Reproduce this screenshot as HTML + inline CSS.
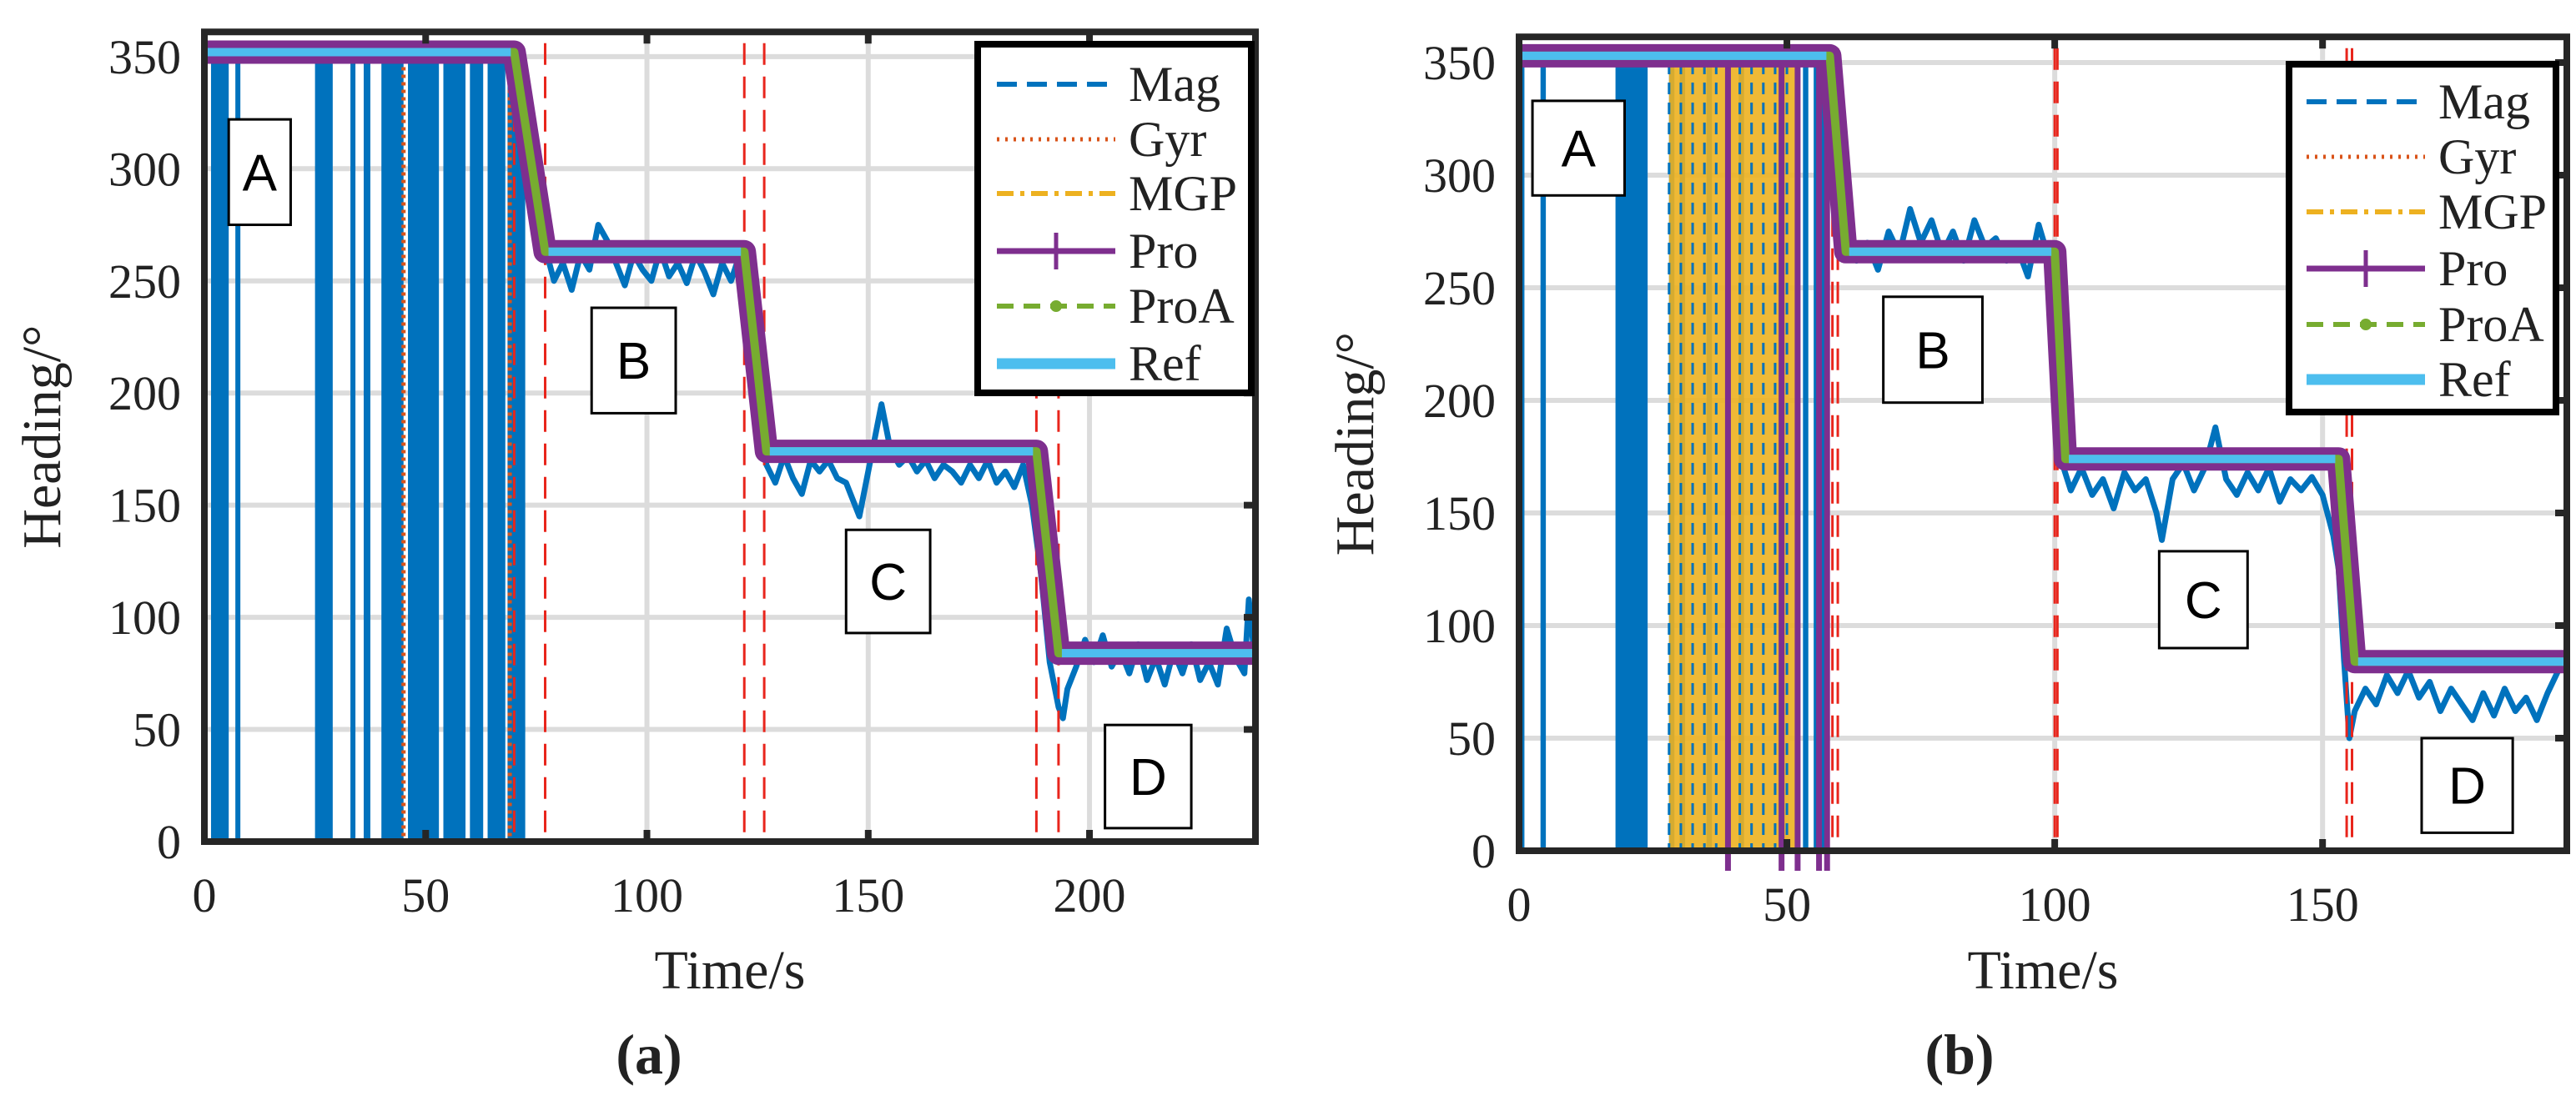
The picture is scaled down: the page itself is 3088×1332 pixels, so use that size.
<!DOCTYPE html>
<html><head><meta charset="utf-8"><style>
html,body{margin:0;padding:0;background:#fff}
svg{display:block}
text{font-family:"Liberation Serif",serif;fill:#222}
.lab{font-family:"Liberation Sans",sans-serif;fill:#000}
</style></head><body>
<svg id="fig" width="3088" height="1332" viewBox="0 0 3088 1332" xmlns="http://www.w3.org/2000/svg"></svg>
<script>
// ---------- data: chart (a) ----------
const aXTicks=[0,50,100,150,200];
const aYTicks=[0,50,100,150,200,250,300,350];
const aRefT=[0,70,77,122,127,188,193,237.5];
const aRefV=[352,352,263,263,174,174,84,84];
const aSpikes=[[1.5,5.5],[7,8],[25,29],[33,34],[36,37.5],[40,45],[46,53],[54,59],[60,63],[64,68],[68.5,72.5]];
const aMag=[[72,330],[74,300],[77,265],[79,250],[81,258],[83,246],[85,262],[87,255],[89,275],[91,268],[93,258],[95,248],[97,262],[99,255],[101,250],[103,264],[105,252],[107,258],[109,249],[111,262],[113,254],[115,244],[117,258],[119,250],[121,262],[123,240],[125,200],[127,168],[129,160],[131,172],[133,162],[135,155],[137,170],[139,165],[141,170],[143,162],[145,160],[147,150],[148,145],[150,165],[152,185],[153,195],[155,175],[157,168],[159,172],[161,165],[163,170],[165,162],[167,168],[169,165],[171,160],[173,168],[175,162],[177,170],[179,160],[181,165],[183,158],[185,168],[187,150],[189,120],[191,80],[193,60],[194,55],[195,68],[197,78],[199,90],[201,80],[203,92],[205,78],[207,85],[209,75],[211,88],[213,72],[215,82],[217,70],[219,85],[221,75],[223,88],[225,72],[227,80],[229,70],[231,95],[233,82],[235,75],[236,108],[237,88]];
const aRedV=[70,77,122,126.5,188,193];
const aGyrV=[45,69];
const aBoxes=[["A",5.5,322,19.5,275],["B",87.5,238,106.5,191],["C",145,139,164,93],["D",203.5,52,223,6]];
// ---------- data: chart (b) ----------
const bXTicks=[0,50,100,150];
const bYTicks=[0,50,100,150,200,250,300,350];
const bRefT=[0,58,61,100,102,153,156,195.6];
const bRefV=[353,353,266,266,174,174,84,84];
const bSpikes=[[0,1],[4,5],[18,24],[28,29],[30,31],[35,36],[41,42],[53,54],[55,57]];
const bMgp=[[28,52]];
const bProV=[39,49,52,56,57.5];
const bMag=[[59,280],[61,275],[63,262],[65,270],[67,258],[69,275],[71,265],[73,285],[75,270],[77,280],[79,265],[81,275],[83,262],[85,280],[87,268],[89,272],[91,262],[93,268],[95,255],[97,278],[99,262],[100,220],[101,175],[103,160],[105,170],[107,158],[109,165],[111,152],[113,168],[115,160],[117,165],[119,150],[120,138],[122,165],[124,172],[126,160],[128,170],[130,188],[132,165],[134,158],[136,168],[138,160],[140,170],[142,155],[144,165],[146,160],[148,166],[150,158],[152,140],[153,125],[154,85],[155,50],[156,62],[158,72],[160,65],[162,78],[164,70],[166,80],[168,68],[170,75],[172,62],[174,72],[176,65],[178,58],[180,70],[182,60],[184,72],[186,62],[188,68],[190,58],[192,70],[194,80],[195,88]];
const bRedV=[58.5,59.5,100,100.5,154.5,155.5];
const bGyrV=[];
const bBoxes=[["A",2.5,333,19.7,291],["B",68,246,86.5,199],["C",119.5,133,136,90],["D",168.5,50,185.5,8]];

const NS="http://www.w3.org/2000/svg";
const svg=document.getElementById('fig');
function mk(tag,attrs,parent){const e=document.createElementNS(NS,tag);for(const k in attrs)e.setAttribute(k,attrs[k]);(parent||svg).appendChild(e);return e;}

function chart(c){
  const g=mk('g',{});
  
  
  const X=t=>c.x0+(t/c.xmax)*(c.x1-c.x0);
  const Y=v=>c.y0-v*c.ys;
  const top=Y(c.ymax);
  c.xt.forEach(t=>{const l=mk('line',{x1:X(t),x2:X(t),y1:top,y2:c.y0,stroke:'#dcdcdc','stroke-width':6},g);
    
    });
  c.yt.forEach(v=>{const l=mk('line',{x1:c.x0,x2:c.x1,y1:Y(v),y2:Y(v),stroke:'#dcdcdc','stroke-width':6},g);
    
    });
  c.spikes.forEach(s=>{const r=mk('rect',{x:X(s[0]),y:Y(c.refV[0]-4),width:Math.max(6,X(s[1])-X(s[0])),height:Y(1)-Y(c.refV[0]-4),fill:'#0072bd'},g);
    
    });
  (c.mgp||[]).forEach(s=>{const r=mk('rect',{x:X(s[0]),y:Y(350),width:X(s[1])-X(s[0]),height:Y(1)-Y(350),fill:'#edb120',opacity:0.9},g);
    
    
    for(let t=s[0];t<s[1];t+=2.2){const l=mk('line',{x1:X(t),x2:X(t),y1:Y(350),y2:Y(1),stroke:(Math.round(t*10)%2?'#d95319':'#0072bd'),'stroke-width':3,'stroke-dasharray':'14 10'},g);
      
      }});
  (c.proV||[]).forEach(t=>{const l=mk('line',{x1:X(t),x2:X(t),y1:Y(352),y2:c.y0+24,stroke:'#7e2f8e','stroke-width':7},g);
    
    });
  const mp=mk('polyline',{points:c.mag.map(p=>X(p[0])+','+Y(p[1])).join(' '),fill:'none',stroke:'#0072bd','stroke-width':7,'stroke-linejoin':'round'},g);
  
  
  c.redV.forEach(t=>{const l=mk('line',{x1:X(t),x2:X(t),y1:Y(c.ymax-5),y2:c.y0,stroke:'#e8251c','stroke-width':3,'stroke-dasharray':'26 14'},g);
    
    });
  c.gyrV.forEach(t=>{const l=mk('line',{x1:X(t),x2:X(t),y1:Y(352),y2:c.y0,stroke:'#d95319','stroke-width':5,'stroke-dasharray':'4 5'},g);
    
    });
  const pts=c.refT.map((t,i)=>X(t)+','+Y(c.refV[i])).join(' ');
  const pro=mk('polyline',{points:pts,fill:'none',stroke:'#7e2f8e','stroke-width':28,'stroke-linejoin':'round'},g);
  
  
  const pa=mk('polyline',{points:pts,fill:'none',stroke:'#77ac30','stroke-width':10,'stroke-linejoin':'round'},g);
  
  
  for(let i=0;i<c.refT.length;i+=2){const l=mk('line',{x1:X(c.refT[i])+4,x2:X(c.refT[i+1])-4,y1:Y(c.refV[i]),y2:Y(c.refV[i]),stroke:'#4dbeee','stroke-width':10},g);
    
    }
  c.boxes.forEach(b=>{const bx=mk('rect',{x:X(b[1]),y:Y(b[2]),width:X(b[3])-X(b[1]),height:Y(b[4])-Y(b[2]),fill:'#fff',stroke:'#000','stroke-width':3},g);
    
    
    const t=mk('text',{x:(X(b[1])+X(b[3]))/2,y:(Y(b[2])+Y(b[4]))/2+22,'text-anchor':'middle','font-size':62,class:'lab'},g);t.textContent=b[0];
    
    });
  const fr=mk('rect',{x:c.x0,y:top,width:c.x1-c.x0,height:c.y0-top,fill:'none',stroke:'#262626','stroke-width':8},g);
  
  
  c.xt.forEach(t=>{const tx=mk('text',{x:X(t),y:c.y0+84,'text-anchor':'middle','font-size':58},g);tx.textContent=t;
    
    
    const k=mk('line',{x1:X(t),x2:X(t),y1:top,y2:top+14,stroke:'#262626','stroke-width':8},g);
    
    
    const k2=mk('line',{x1:X(t),x2:X(t),y1:c.y0-14,y2:c.y0,stroke:'#262626','stroke-width':8},g);
    
    });
  c.yt.forEach(v=>{const tx=mk('text',{x:c.x0-28,y:Y(v)+20,'text-anchor':'end','font-size':58},g);tx.textContent=v;
    
    
    const k=mk('line',{x1:c.x1-14,x2:c.x1,y1:Y(v),y2:Y(v),stroke:'#262626','stroke-width':8},g);
    
    });
  const xt=mk('text',{x:(c.x0+c.x1)/2,y:1185,'text-anchor':'middle','font-size':66},g);xt.textContent='Time/s';
  
  
  const yt=mk('text',{x:0,y:0,'text-anchor':'middle','font-size':66,transform:`translate(${c.ytX},${(top+c.y0)/2}) rotate(-90)`},g);yt.textContent='Heading/°';
  
  
  const cap=mk('text',{x:c.capX,y:1287,'text-anchor':'middle','font-size':68,'font-weight':'bold'},g);
  cap.textContent=c.cap;
  
  
  const L=c.leg;
  const lg=mk('g',{},g);
  
  
  mk('rect',{x:L.x,y:L.y,width:L.w,height:L.h,fill:'#fff',stroke:'#000','stroke-width':8},lg);
  const items=[['Mag','#0072bd','24 12',6],['Gyr','#d95319','3 7',5],['MGP','#edb120','20 8 5 8',6],['Pro','#7e2f8e','',7],['ProA','#77ac30','20 12',6],['Ref','#4dbeee','',13]];
  items.forEach((it,i)=>{const yy=L.rows[i];
    const e=mk('g',{},lg);
    
    
    mk('line',{x1:L.lx,x2:L.lx+142,y1:yy,y2:yy,stroke:it[1],'stroke-width':it[3],'stroke-dasharray':it[2]},e);
    if(it[0]==='Pro')mk('line',{x1:L.lx+71,x2:L.lx+71,y1:yy-22,y2:yy+22,stroke:it[1],'stroke-width':5},e);
    if(it[0]==='ProA')mk('circle',{cx:L.lx+71,cy:yy,r:7,fill:it[1]},e);
    const t=mk('text',{x:L.lx+158,y:yy+20,'font-size':60,fill:'#000'},e);t.textContent=it[0];});
}
chart({name:'chart-a',x0:245,x1:1505,xmax:237.5,y0:1009,ys:2.689,ymax:361,xt:aXTicks,yt:aYTicks,refT:aRefT,refV:aRefV,spikes:aSpikes,mag:aMag,redV:aRedV,gyrV:aGyrV,boxes:aBoxes,capX:778,cap:'(a)',ytX:72,
  leg:{x:1172,y:53,w:328,h:418,lx:1195,rows:[101,167,232,301,367,436]}});
chart({name:'chart-b',x0:1821,x1:3077,xmax:195.6,y0:1020,ys:2.7,ymax:361.4,xt:bXTicks,yt:bYTicks,refT:bRefT,refV:bRefV,spikes:bSpikes,mgp:bMgp,proV:bProV,mag:bMag,redV:bRedV,gyrV:bGyrV,boxes:bBoxes,capX:2349,cap:'(b)',ytX:1646,
  leg:{x:2744,y:77,w:320,h:417,lx:2765,rows:[122,188,254,322,389,455]}});
</script>
</body></html>
